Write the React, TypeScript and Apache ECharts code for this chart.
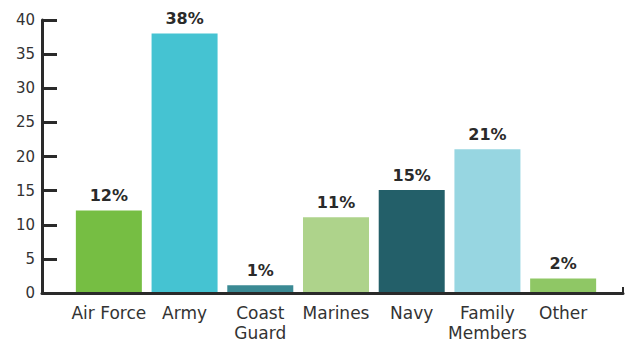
import React, { useEffect, useRef } from "react";
import * as echarts from "echarts";

const categories = ["Air Force", "Army", "Coast\nGuard", "Marines", "Navy", "Family\nMembers", "Other"];
const values = [12, 38, 1, 11, 15, 21, 2];
const barColors = ["#76BE43", "#45C3D2", "#3B8A94", "#AED38B", "#235F69", "#97D6E1", "#8FC765"];
const yMin = 0;
const yMax = 40;
const yInterval = 5;

const FONT = "DejaVu Sans";

export default function App() {
  const ref = useRef<HTMLDivElement>(null);
  useEffect(() => {
    if (!ref.current) return;
    const chart = echarts.init(ref.current, null, { renderer: "svg" });
    chart.setOption({
      animation: false,
      grid: [
        { left: 71, right: 30, top: 20, bottom: 50 },
        { left: 42, right: 8, top: 20, bottom: 50 },
      ],
      xAxis: [
        {
          type: "category",
          gridIndex: 0,
          data: categories,
          axisLine: { show: false },
          axisTick: { show: false },
          axisLabel: {
            color: "#333",
            fontFamily: FONT,
            fontSize: 17,
            lineHeight: 20,
            margin: 11,
            interval: 0,
          },
        },
        {
          type: "value",
          gridIndex: 1,
          min: 0,
          max: 1,
          interval: 1,
          axisLine: { show: true, lineStyle: { color: "#2a2a2a", width: 3 } },
          axisTick: { show: true, inside: true, length: 6, lineStyle: { color: "#2a2a2a", width: 2 } },
          axisLabel: { show: false },
          splitLine: { show: false },
        },
      ],
      yAxis: [
        {
          type: "value",
          gridIndex: 0,
          min: yMin,
          max: yMax,
          interval: yInterval,
          show: false,
        },
        {
          type: "value",
          gridIndex: 1,
          min: yMin,
          max: yMax,
          interval: yInterval,
          axisLine: { show: true, lineStyle: { color: "#2a2a2a", width: 3 } },
          axisTick: { show: true, inside: true, length: 15, lineStyle: { color: "#2a2a2a", width: 3 } },
          axisLabel: { color: "#333", fontFamily: FONT, fontSize: 15, margin: 7 },
          splitLine: { show: false },
        },
      ],
      series: [
        {
          type: "bar",
          xAxisIndex: 0,
          yAxisIndex: 0,
          barWidth: 66,
          data: values.map((v, i) => ({ value: v, itemStyle: { color: barColors[i] } })),
          label: {
            show: true,
            position: "top",
            distance: 7,
            formatter: "{c}%",
            color: "#2a2a2a",
            fontFamily: FONT,
            fontWeight: "bold",
            fontSize: 16,
          },
        },
      ],
    });
    return () => chart.dispose();
  }, []);
  return <div ref={ref} style={{ width: 631, height: 343, position: "absolute", left: 0, top: 0 }} />;
}
